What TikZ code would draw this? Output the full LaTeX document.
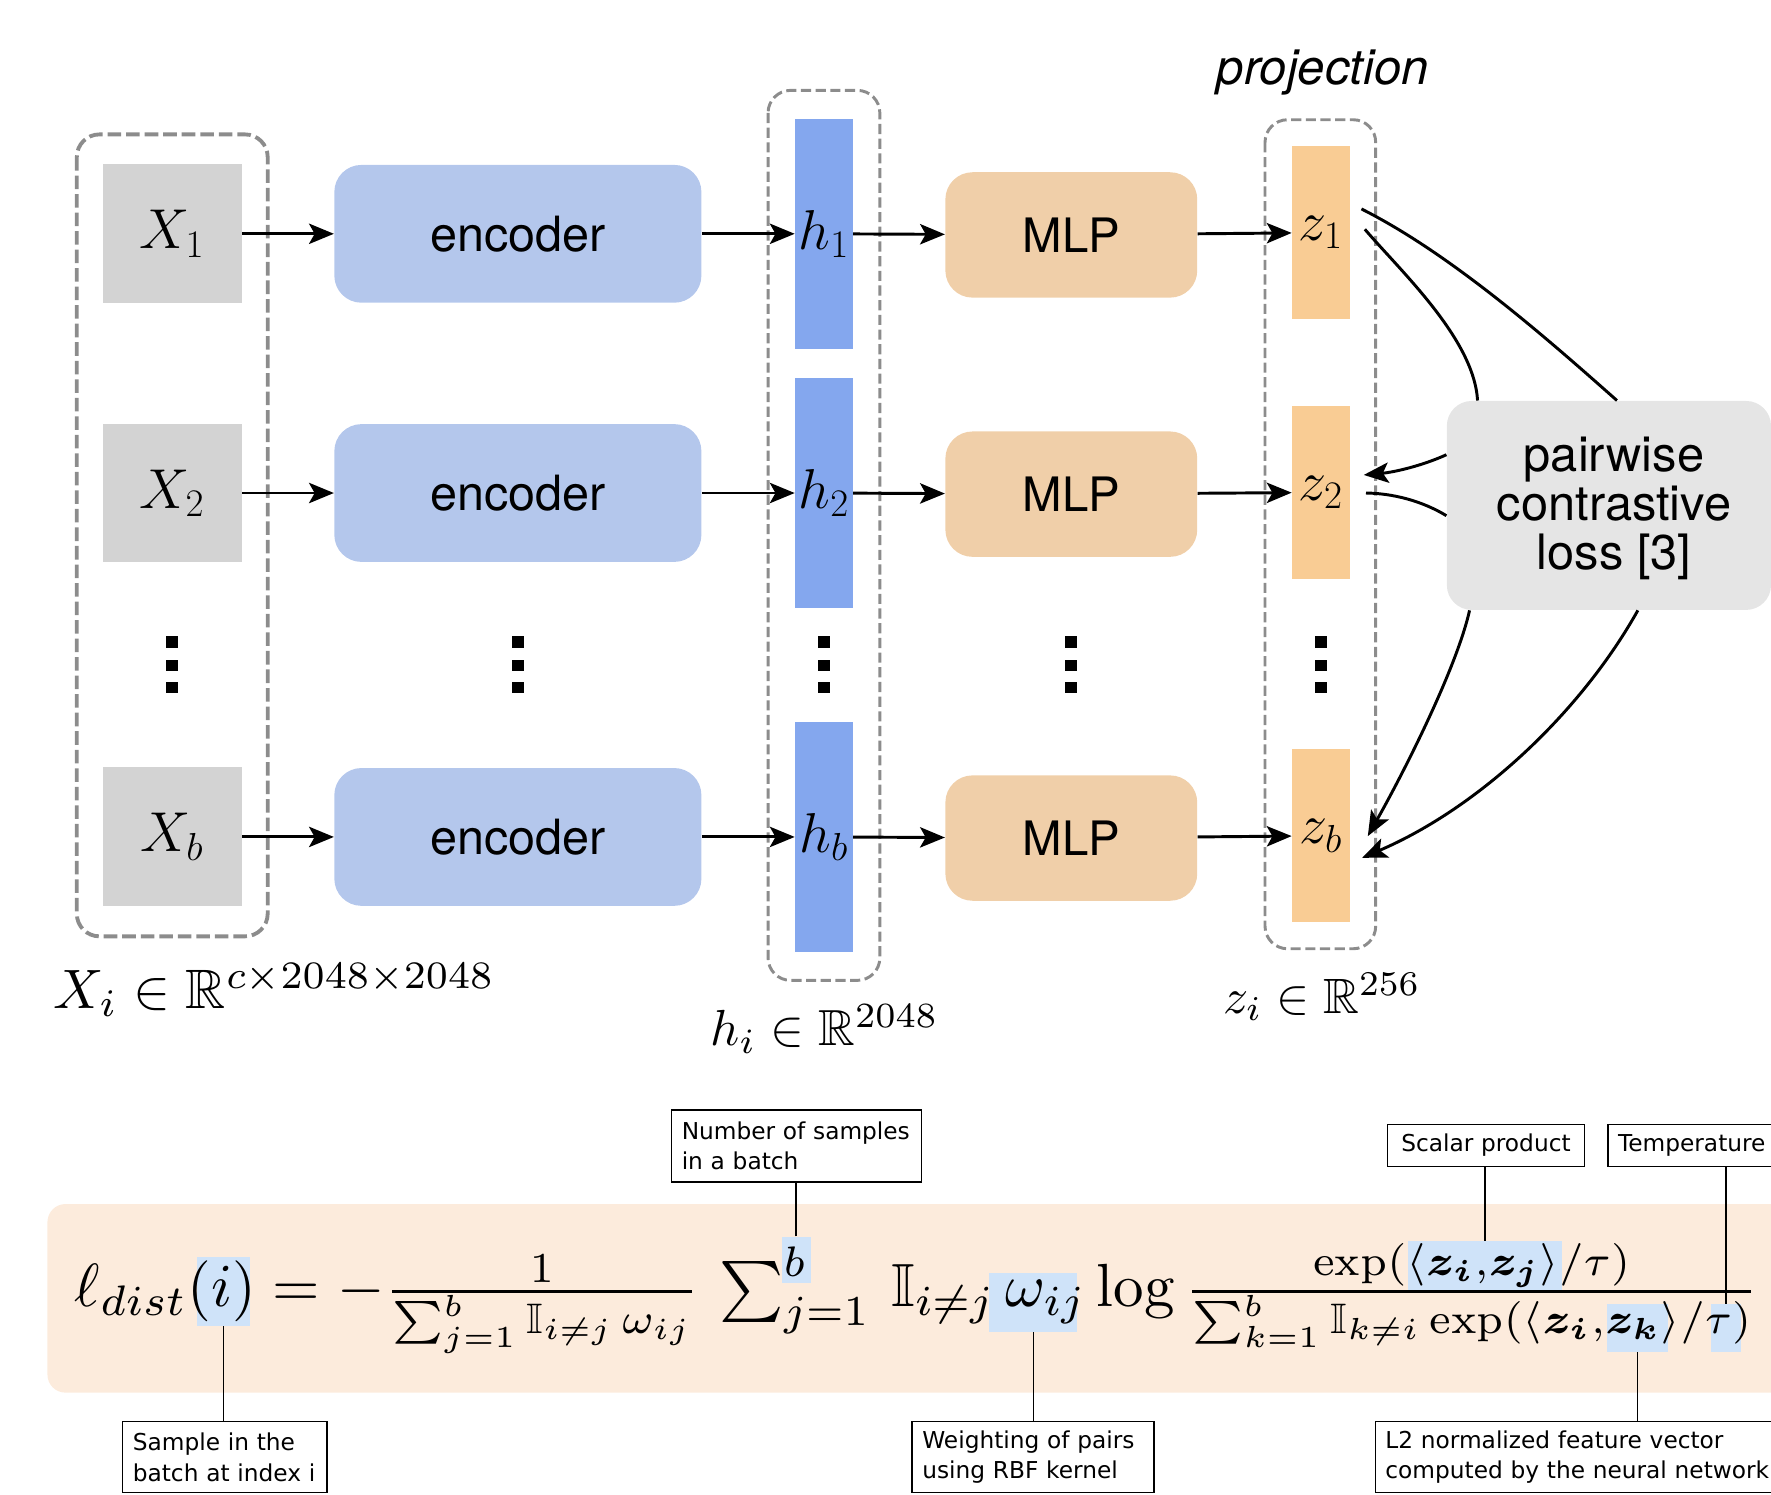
\documentclass[tikz,border=0pt]{standalone}
\usepackage{amsmath,amssymb,bm}
\usepackage{graphicx}
\usepackage{fontspec}
\setsansfont{TeX Gyre Heros}
\newfontfamily\calloutfont{DejaVu Sans}
\usetikzlibrary{arrows.meta,fit,calc}
\definecolor{xgray}{HTML}{D3D3D3}
\definecolor{encblue}{HTML}{B4C7EC}
\definecolor{hblue}{HTML}{84A7EE}
\definecolor{mlporange}{HTML}{F0CFA9}
\definecolor{zorange}{HTML}{F9CC94}
\definecolor{lossgray}{HTML}{E5E5E5}
\definecolor{bandcol}{HTML}{FCEBDC}
\definecolor{hlblue}{HTML}{CFE3F9}
\definecolor{dashgray}{HTML}{8C8C8C}
\begin{document}
\begin{tikzpicture}[x=0.5pt,y=-0.5pt,
  xbox/.style={fill=xgray,minimum width=61.5pt,minimum height=61.5pt,inner sep=0pt,font=\fontsize{23.5}{28}\selectfont},
  encbox/.style={fill=encblue,rounded corners=12pt,minimum width=162.5pt,minimum height=61pt,inner sep=0pt,font=\sffamily\fontsize{21.5}{26}\selectfont},
  hbar/.style={fill=hblue,minimum width=25.5pt,minimum height=102pt,inner sep=0pt,font=\fontsize{25.5}{30}\selectfont},
  mlpbox/.style={fill=mlporange,rounded corners=12pt,minimum width=111.5pt,minimum height=55.5pt,inner sep=0pt,font=\sffamily\fontsize{21}{26}\selectfont},
  zbar/.style={fill=zorange,minimum width=25.5pt,minimum height=76.5pt,inner sep=0pt,font=\fontsize{26}{30}\selectfont},
  arr/.style={line width=1.3pt,-{Stealth[length=11pt,width=9pt,inset=2.5pt]}},
  link/.style={line width=1.3pt},
  framethick/.style={draw=dashgray,line width=1.7pt,dash pattern=on 6pt off 2.2pt,rounded corners=10pt},
  framethin/.style={draw=dashgray,line width=1.3pt,dash pattern=on 4.5pt off 2pt,rounded corners=10pt},
  hl/.style={fill=hlblue,inner sep=0pt},
  mathlabel/.style={anchor=base west,inner sep=0pt},
  callout/.style={draw=black,line width=0.6pt,fill=white,anchor=north west,inner xsep=4.5pt,inner ysep=0pt,align=left,font=\calloutfont\fontsize{10.3}{13.5}\selectfont},
  cline/.style={line width=0.6pt}
]
\useasboundingbox (0,0) rectangle (1568,1323);
\clip (0,0) rectangle (1568,1323);

% dashed group frames
\draw[framethick] (68,119) rectangle (237,829);
\draw[framethin] (680,80) rectangle (779,868);
\draw[framethin] (1120,106) rectangle (1218,840);

% rows
\node[xbox] (X1) at (152.5,207) {$X_1$};
\node[xbox] (X2) at (152.5,436.5) {$X_2$};
\node[xbox] (Xb) at (152.5,741) {$X_b$};
\node[encbox] (E1) at (458.5,207) {encoder};
\node[encbox] (E2) at (458.5,436.5) {encoder};
\node[encbox] (Eb) at (458.5,741) {encoder};
\node[hbar] (H1) at (729.5,207) {$h_1$};
\node[hbar] (H2) at (729.5,436.5) {$h_2$};
\node[hbar] (Hb) at (729.5,741) {$h_b$};
\node[mlpbox] (M1) at (948.5,208) {MLP};
\node[mlpbox] (M2) at (948.5,437.5) {MLP};
\node[mlpbox] (Mb) at (948.5,742) {MLP};
\node[zbar] (Z1) at (1169.5,206) {$z_1$};
\node[zbar] (Z2) at (1169.5,436) {$z_2$};
\node[zbar] (Zb) at (1169.5,740) {$z_b$};

\foreach \a/\b in {X1/E1,X2/E2,Xb/Eb,E1/H1,E2/H2,Eb/Hb,H1/M1,H2/M2,Hb/Mb,M1/Z1,M2/Z2,Mb/Zb}
  \draw[arr] (\a) -- (\b);

% vertical dots
\foreach \x in {152.5,458.5,729.5,948.5,1169.5}
  \foreach \y in {568.5,589,608.5}
    \fill (\x-5.3,\y-5) rectangle (\x+5.3,\y+5);

% loss
\node[fill=lossgray,rounded corners=11pt,minimum width=143.5pt,minimum height=92.5pt,inner sep=0pt] (loss) at (1424.5,447.5) {};
\node[inner sep=0pt,align=center,font=\sffamily\fontsize{21.6}{21.8}\selectfont] (losstext) at (1429,450) {pairwise\\contrastive\\loss [3]};

\draw[link] ($(Z1.east)+(10,-21)$) .. controls (1285,225) and (1370,300) .. ($(loss.north west)+(151,0)$);
\draw[link] ($(Z1.east)+(13,-3)$) .. controls (1240,240) and (1305,300) .. ($(loss.north west)+(27.6,0)$);
\draw[arr] ($(loss.north west)+(0,48)$) .. controls (1260,412) and (1235,418) .. ($(Z2.east)+(12,-15.5)$);
\draw[link] ($(Z2.east)+(14,0.5)$) .. controls (1240,437) and (1265,447) .. ($(loss.north west)+(0,102)$);
\draw[arr] ($(loss.south west)+(20.5,0)$) .. controls (1290,590) and (1245,680) .. ($(Zb.east)+(15.6,0.3)$);
\draw[arr] ($(loss.south west)+(169.5,0)$) .. controls (1400,630) and (1310,715) .. ($(Zb.east)+(10.6,19.5)$);

% labels
\node[anchor=base west,inner sep=0pt,font=\sffamily\itshape\fontsize{21.7}{25}\selectfont] (proj) at (1077,75) {projection};
\node[mathlabel] (lx) at (47,893) {\resizebox{195.5pt}{!}{$X_i\in\mathbb{R}^{c\times2048\times2048}$}};
\node[mathlabel] (lh) at (628.6,926) {\resizebox{101pt}{!}{$h_i\in\mathbb{R}^{2048}$}};
\node[mathlabel] (lz) at (1082.5,897) {\resizebox{87.6pt}{!}{$z_i\in\mathbb{R}^{256}$}};

% formula band
\fill[bandcol,rounded corners=8pt] (42,1066) rectangle (1620,1233);
\node[hl,fit={(174.2,1112.6) (221.6,1174)}] (hli) {};
\node[hl,fit={(692,1095) (717.7,1136)}] (hlb) {};
\node[hl,fit={(875.8,1127) (953.7,1179)}] (hlw) {};
\node[hl,fit={(1247,1099) (1382.7,1142)}] (hlzz) {};
\node[hl,fit={(1423,1154.5) (1477,1196.7)}] (hlzk) {};
\node[hl,fit={(1515,1154.5) (1541,1196.7)}] (hltau) {};

\node[anchor=base west,inner sep=0pt] (formula) at (66,1157) {\resizebox{745.25pt}{!}{$
 \ell_{dist}(i) = -\frac{1}{\sum_{j=1}^{b}\mathbb{I}_{i\neq j}\,\omega_{ij}}\,\sum_{j=1}^{b}\,\mathbb{I}_{i\neq j}\,\omega_{ij}\log\frac{\exp(\langle\bm{z_i},\bm{z_j}\rangle/\tau)}{\sum_{k=1}^{b}\mathbb{I}_{k\neq i}\exp(\langle\bm{z_i},\bm{z_k}\rangle/\tau)}$}};

% callouts
\node[callout,text width=81.5pt,minimum height=31.5pt] (c1) at (108,1258) {Sample in the\\batch at index i};
\node[callout,text width=101.5pt,minimum height=32pt] (c2) at (594,982) {Number of samples\\in a batch};
\node[callout,text width=98pt,minimum height=31.5pt] (c3) at (807,1258) {Weighting of pairs\\using RBF kernel};
\node[callout,text width=78pt,minimum height=18.5pt,align=center] (c4) at (1228,995) {Scalar product};
\node[callout,text width=99.5pt,minimum height=18.5pt] (c5) at (1423,995) {Temperature};
\node[callout,text width=202.5pt,minimum height=31.5pt] (c6) at (1217,1258) {L2 normalized feature vector\\computed by the neural network};

\draw[cline] (hli.south) -- (hli.south |- c1.north);
\draw[cline] (hlb.north) -- (hlb.north |- c2.south);
\draw[cline] (hlw.south) -- (hlw.south |- c3.north);
\draw[cline] (hlzz.north) -- (hlzz.north |- c4.south);
\draw[cline] (hltau.north) -- (hltau.north |- c5.south);
\draw[cline] (hlzk.south) -- (hlzk.south |- c6.north);
\end{tikzpicture}
\end{document}
